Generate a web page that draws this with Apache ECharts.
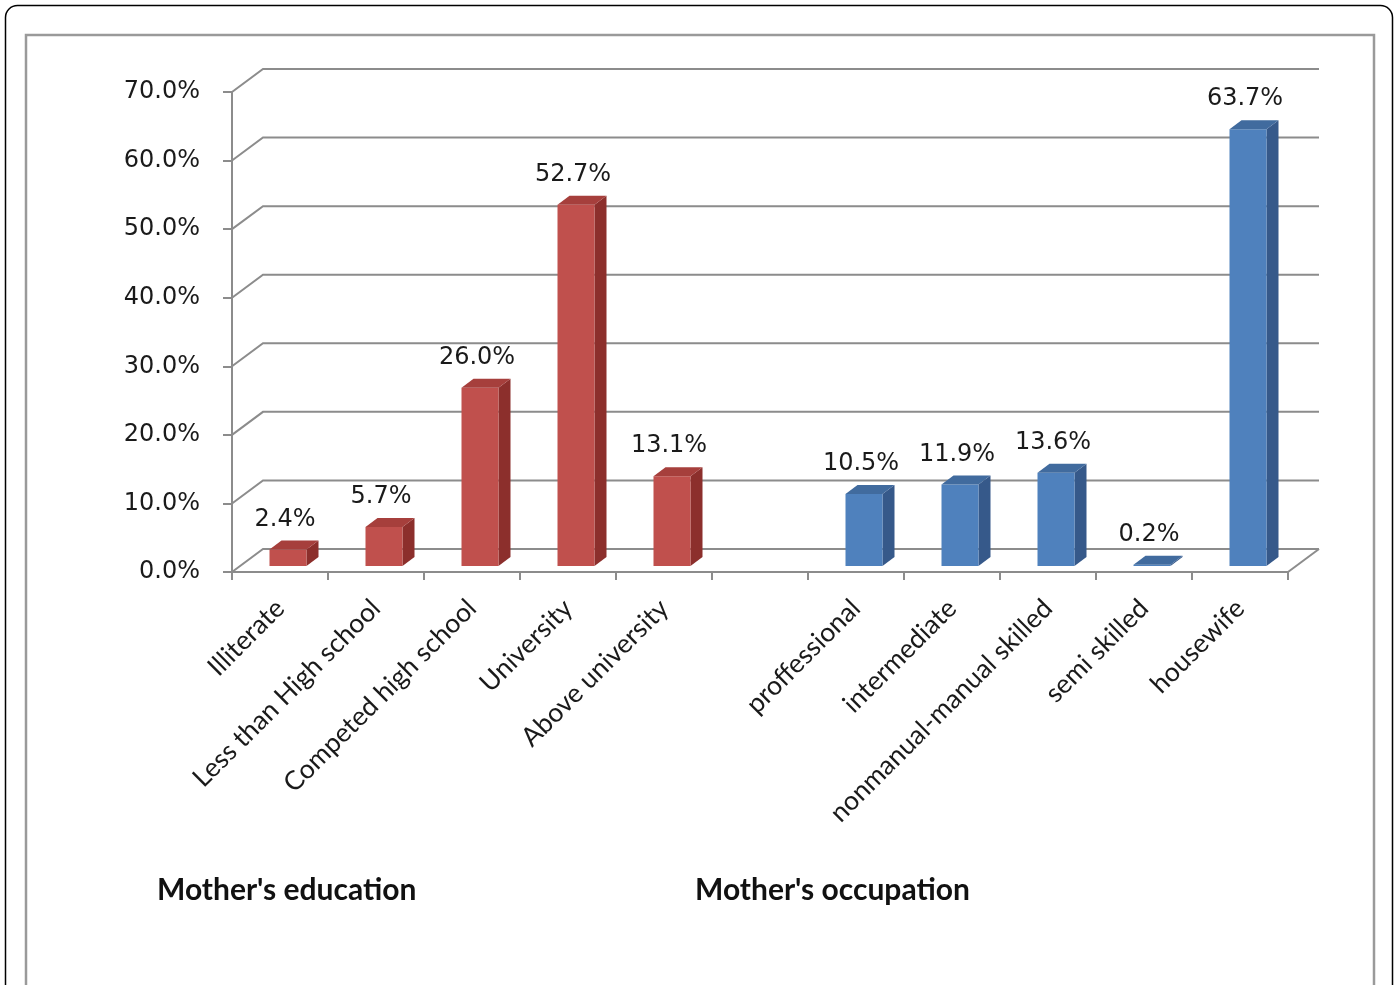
<!DOCTYPE html>
<html>
<head>
<meta charset="utf-8">
<script src="https://cdn.jsdelivr.net/npm/echarts@6/dist/echarts.min.js"></script>
<style>
  html, body { margin: 0; padding: 0; background: #ffffff; }
  #chart { width: 1397px; height: 985px; }
</style>
</head>
<body>
<div id="chart"></div>
<script>
// Category slots: five education levels, one empty spacer, five occupations
const categories = [
  'Illiterate', 'Less than High school', 'Competed high school', 'University', 'Above university',
  '',
  'proffessional', 'intermediate', 'nonmanual-manual skilled', 'semi skilled', 'housewife'
];
const educationSlots = [0, 1, 2, 3, 4];
const educationValues = [2.4, 5.7, 26.0, 52.7, 13.1];
const occupationSlots = [6, 7, 8, 9, 10];
const occupationValues = [10.5, 11.9, 13.6, 0.2, 63.7];
const yTicks = [0, 10, 20, 30, 40, 50, 60, 70];
const groupTitles = ["Mother's education", "Mother's occupation"];

// Oblique depth of the plot box (back wall offset) and of each column
const WALL_DX = 31, WALL_DY = 23;
const BAR_FRONT_DX = 8, BAR_FRONT_DY = 6;
const BAR_SIDE_DX = 12, BAR_SIDE_DY = 9;
const BAR_W = 37;
const GRID_COLOR = '#8c8c8c';
const NUM_FONT = '24px "DejaVu Sans"';

const chart = echarts.init(document.getElementById('chart'), null, { renderer: 'canvas' });

function renderWall(params, api) {
  const cs = params.coordSys;
  const v = api.value(1);
  const y = api.coord([0, v])[1];
  const x0 = cs.x, x1 = cs.x + cs.width;
  const children = [{
    type: 'polyline',
    shape: { points: [[x0, y], [x0 + WALL_DX, y - WALL_DY], [x1 + WALL_DX, y - WALL_DY]] },
    style: { stroke: GRID_COLOR, lineWidth: 2, fill: null }
  }];
  if (v === 0) {
    children.push({
      type: 'line',
      shape: { x1: x1, y1: y, x2: x1 + WALL_DX, y2: y - WALL_DY },
      style: { stroke: GRID_COLOR, lineWidth: 2 }
    });
  }
  return { type: 'group', children: children };
}

function makeBarRenderer(colors) {
  return function (params, api) {
    const i = api.value(0), v = api.value(1);
    const base = api.coord([i, 0]);
    const top = api.coord([i, v]);
    const cx = base[0] + BAR_FRONT_DX;
    const yb = base[1] - BAR_FRONT_DY;
    const yt = top[1] - BAR_FRONT_DY;
    const xl = cx - BAR_W / 2, xr = cx + BAR_W / 2;
    return {
      type: 'group',
      children: [
        {
          type: 'polygon',
          shape: { points: [[xr, yt], [xr + BAR_SIDE_DX, yt - BAR_SIDE_DY], [xr + BAR_SIDE_DX, yb - BAR_SIDE_DY], [xr, yb]] },
          style: { fill: colors.side }
        },
        {
          type: 'rect',
          shape: { x: xl, y: yt, width: BAR_W, height: Math.max(yb - yt, 0.5) },
          style: { fill: colors.front }
        },
        {
          type: 'polygon',
          shape: { points: [[xl, yt], [xr, yt], [xr + BAR_SIDE_DX, yt - BAR_SIDE_DY], [xl + BAR_SIDE_DX, yt - BAR_SIDE_DY]] },
          style: { fill: colors.top }
        },
        {
          type: 'text',
          style: {
            text: v.toFixed(1) + '%',
            x: base[0] + 5,
            y: yt - 30,
            align: 'center',
            verticalAlign: 'middle',
            font: NUM_FONT,
            fill: '#1a1a1a'
          }
        }
      ]
    };
  };
}

const option = {
  backgroundColor: '#ffffff',
  animation: false,
  grid: { left: 232, right: 109, top: 92, bottom: 413, containLabel: false },
  xAxis: {
    type: 'category',
    data: categories,
    boundaryGap: true,
    axisLine: { show: true, lineStyle: { color: GRID_COLOR, width: 2 } },
    axisTick: { show: true, length: 8, interval: 0, lineStyle: { color: GRID_COLOR, width: 2 } },
    axisLabel: {
      interval: 0,
      rotate: 45,
      margin: 32,
      fontFamily: 'Lato',
      fontSize: 26.5,
      color: '#1a1a1a'
    },
    splitLine: { show: false }
  },
  yAxis: {
    type: 'value',
    min: 0,
    max: 70,
    interval: 10,
    axisLine: { show: true, lineStyle: { color: GRID_COLOR, width: 2 } },
    axisTick: { show: true, length: 9, lineStyle: { color: GRID_COLOR, width: 2 } },
    axisLabel: {
      margin: 32,
      padding: [6, 0, 0, 0],
      fontFamily: 'DejaVu Sans',
      fontSize: 24,
      color: '#1a1a1a',
      formatter: function (v) { return v.toFixed(1) + '%'; }
    },
    splitLine: { show: false }
  },
  graphic: [
    {
      type: 'rect', silent: true, z: -10,
      shape: { x: 5.5, y: 5.5, width: 1387, height: 1010, r: 12 },
      style: { fill: null, stroke: '#000000', lineWidth: 1.5 }
    },
    {
      type: 'rect', silent: true, z: -10,
      shape: { x: 26, y: 35, width: 1348, height: 1010 },
      style: { fill: null, stroke: '#9a9a9a', lineWidth: 2.5 }
    },
    {
      type: 'text', left: 157, top: 875,
      style: { text: groupTitles[0], font: 'bold 30px Lato', fill: '#111111' }
    },
    {
      type: 'text', left: 695, top: 875,
      style: { text: groupTitles[1], font: 'bold 30px Lato', fill: '#111111' }
    }
  ],
  series: [
    {
      type: 'custom',
      name: 'wall',
      z: 1,
      silent: true,
      clip: false,
      renderItem: renderWall,
      data: yTicks.map(function (v) { return [0, v]; })
    },
    {
      type: 'custom',
      name: "Mother's education",
      z: 3,
      clip: false,
      renderItem: makeBarRenderer({ front: '#c0504d', side: '#8c2f2c', top: '#a63f3c' }),
      data: educationSlots.map(function (s, k) { return [s, educationValues[k]]; })
    },
    {
      type: 'custom',
      name: "Mother's occupation",
      z: 3,
      clip: false,
      renderItem: makeBarRenderer({ front: '#4f81bd', side: '#36598a', top: '#416b9e' }),
      data: occupationSlots.map(function (s, k) { return [s, occupationValues[k]]; })
    }
  ]
};

chart.setOption(option);
</script>
</body>
</html>
